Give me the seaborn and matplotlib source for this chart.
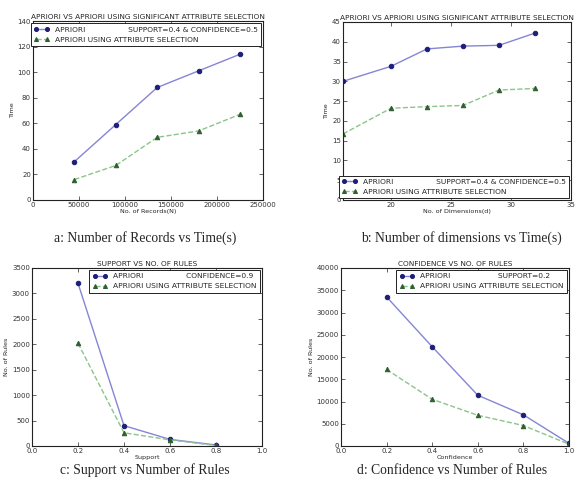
import numpy as np
import pandas as pd
import matplotlib
matplotlib.use('Agg')
import matplotlib.pyplot as plt
import seaborn as sns

# data
records = [45000, 90000, 135000, 180000, 225000]
rec_apriori = [30, 59, 88, 101, 114]
rec_attr = [16, 27, 49, 54, 67]

dims = [16, 20, 23, 26, 29, 32]
dim_apriori = [30, 33.8, 38.2, 38.9, 39.1, 42.2]
dim_attr = [16.7, 23.2, 23.6, 23.9, 27.8, 28.2]

support = [0.2, 0.4, 0.6, 0.8]
sup_apriori = [3200, 400, 130, 20]
sup_attr = [2020, 260, 120, 10]

confidence = [0.2, 0.4, 0.6, 0.8, 1.0]
conf_apriori = [33500, 22300, 11400, 7000, 600]
conf_attr = [17200, 10500, 6900, 4600, 400]

sns.set_style('white')
plt.rcParams['font.family'] = ['DejaVu Sans']

fig = plt.figure(figsize=(5.77, 4.88), dpi=100)
W, H = 577, 488

def axes_px(l, t, r, b):
    return fig.add_axes([l / W, 1 - b / H, (r - l) / W, (b - t) / H])

blue_line = '#8585d6'
blue_mark = '#1f1f7a'
green_line = '#8cc48c'
green_mark = '#2f5f2f'

def panel(ax, x, y1, y2, lab1, title, xlabel, ylabel, xlim, ylim, xticks, yticks, loc):
    sns.lineplot(x=x, y=y1, ax=ax, color=blue_line, marker='o', markersize=3.2,
                 markerfacecolor=blue_mark, markeredgecolor=blue_mark, linewidth=1.0, label=lab1)
    sns.lineplot(x=x, y=y2, ax=ax, color=green_line, marker='^', markersize=3.2,
                 markerfacecolor=green_mark, markeredgecolor=green_mark, linewidth=1.0,
                 linestyle='--', label='APRIORI USING ATTRIBUTE SELECTION')
    ax.set_xlim(*xlim)
    ax.set_ylim(*ylim)
    ax.set_xticks(xticks)
    ax.set_yticks(yticks)
    ax.set_title(title, fontsize=5.3, pad=1.5)
    ax.set_xlabel(xlabel, fontsize=4.6, labelpad=1)
    ax.set_ylabel(ylabel, fontsize=4.6, labelpad=2)
    ax.tick_params(direction='in', length=3, width=0.5, labelsize=5, pad=1.5,
                   top=True, right=True, bottom=True, left=True, labelcolor='#333333')
    for s in ax.spines.values():
        s.set_color('#222222')
        s.set_linewidth(0.8)
    leg = ax.legend(loc=loc, fontsize=5.4, numpoints=2, fancybox=False, framealpha=1,
                    borderaxespad=0.3, handlelength=2.0, borderpad=0.4, labelspacing=0.5,
                    markerscale=0.9)
    leg.get_frame().set_edgecolor('#222222')
    leg.get_frame().set_linewidth(0.7)

ax_a = axes_px(33, 21, 263, 200)
panel(ax_a, records, rec_apriori, rec_attr,
      'APRIORI' + ' ' * 18 + 'SUPPORT=0.4 & CONFIDENCE=0.5',
      'APRIORI VS APRIORI USING SIGNIFICANT ATTRIBUTE SELECTION',
      'No. of Records(N)', 'Time', (0, 250000), (0, 140),
      range(0, 250001, 50000), range(0, 141, 20), 'upper right')

ax_b = axes_px(343, 22, 571, 200)
panel(ax_b, dims, dim_apriori, dim_attr,
      'APRIORI' + ' ' * 18 + 'SUPPORT=0.4 & CONFIDENCE=0.5',
      'APRIORI VS APRIORI USING SIGNIFICANT ATTRIBUTE SELECTION',
      'No. of Dimensions(d)', 'Time', (16, 35), (0, 45),
      [20, 25, 30, 35], range(0, 46, 5), 'lower right')

ax_c = axes_px(32, 268, 262, 446)
panel(ax_c, support, sup_apriori, sup_attr,
      'APRIORI' + ' ' * 18 + 'CONFIDENCE=0.9',
      'SUPPORT VS NO. OF RULES',
      'Support', 'No. of Rules', (0, 1), (0, 3500),
      np.arange(0, 1.01, 0.2), range(0, 3501, 500), 'upper right')

ax_d = axes_px(341, 268, 569, 446)
panel(ax_d, confidence, conf_apriori, conf_attr,
      'APRIORI' + ' ' * 20 + 'SUPPORT=0.2',
      'CONFIDENCE VS NO. OF RULES',
      'Confidence', 'No. of Rules', (0, 1), (0, 40000),
      np.arange(0, 1.01, 0.2), range(0, 40001, 5000), 'upper right')

cap = dict(ha='center', va='center', family='Liberation Serif', fontsize=9.8)
fig.text(145 / W, 1 - 238 / H, 'a: Number of Records vs Time(s)', **cap)
fig.text(461 / W, 1 - 238 / H, 'b: Number of dimensions vs Time(s)', **cap)
fig.text(145 / W, 1 - 470 / H, 'c: Support vs Number of Rules', **cap)
fig.text(452 / W, 1 - 470 / H, 'd: Confidence vs Number of Rules', **cap)

fig.savefig('out.png', dpi=100, facecolor='white')
